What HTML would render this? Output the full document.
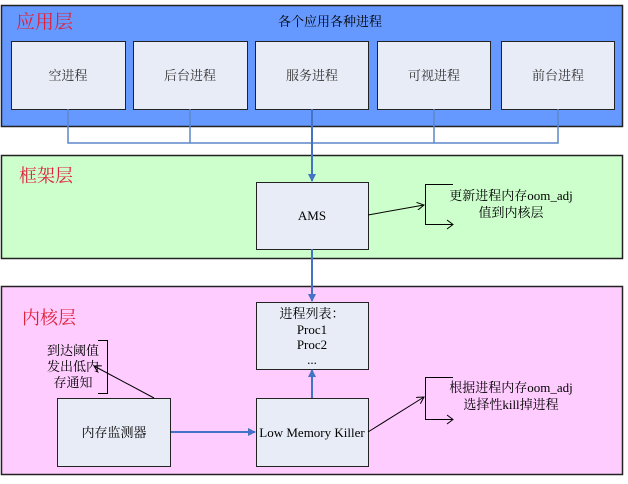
<!DOCTYPE html>
<html><head><meta charset="utf-8"><style>
body{margin:0;width:628px;height:479px;background:#fff;overflow:hidden;font-family:"Liberation Serif","Noto Serif CJK SC",serif}
svg text{font-family:"Liberation Serif","Noto Serif CJK SC",serif}
</style></head><body>
<svg width="628" height="479" xmlns="http://www.w3.org/2000/svg">
<defs>
<marker id="ba" markerWidth="8" markerHeight="8" refX="7" refY="4" orient="auto" markerUnits="userSpaceOnUse"><path d="M0,0 L8,4 L0,8 z" fill="#4472c4"/></marker>
<marker id="ka" markerWidth="8" markerHeight="8" refX="7" refY="4" orient="auto" markerUnits="userSpaceOnUse"><path d="M0,0 L7,4 L0,8" fill="none" stroke="#000" stroke-width="1"/></marker>
</defs>
<!-- app layer -->
<rect x="1.5" y="5.5" width="621" height="121" fill="#6699ff" stroke="#222" stroke-width="1.5"/>
<text x="16" y="28" font-size="19" fill="#e0203a" font-family="Liberation Sans, Noto Sans CJK SC, sans-serif">应用层</text>
<text x="330" y="26" font-size="13" text-anchor="middle">各个应用各种进程</text>
<g fill="#e8ecf6" stroke="#222" stroke-width="1">
<rect x="11.5" y="41.5" width="114" height="68"/>
<rect x="133.5" y="41.5" width="114" height="68"/>
<rect x="255.5" y="41.5" width="113" height="68"/>
<rect x="377.5" y="41.5" width="113" height="68"/>
<rect x="501.5" y="41.5" width="113" height="68"/>
</g>
<g font-size="13" text-anchor="middle" fill="#333">
<text x="68" y="80">空进程</text><text x="190" y="80">后台进程</text><text x="312" y="80">服务进程</text><text x="434" y="80">可视进程</text><text x="558" y="80">前台进程</text>
</g>
<g stroke="#5b87c8" stroke-width="1.5" fill="none">
<path d="M68,109 V143 H558 V109 M190,109 V143 M434,109 V143"/>
</g>
<!-- framework layer -->
<rect x="1.5" y="155.5" width="621" height="103" fill="#ccffcc" stroke="#222" stroke-width="1.5"/>
<text x="19" y="182" font-size="18" fill="#e0203a" font-family="Liberation Sans, Noto Sans CJK SC, sans-serif">框架层</text>
<line x1="312" y1="109" x2="312" y2="181" stroke="#4472c4" stroke-width="2" marker-end="url(#ba)"/>
<rect x="256.5" y="182.5" width="112" height="67" fill="#e8ecf6" stroke="#222"/>
<text x="312" y="220" font-size="13" text-anchor="middle">AMS</text>
<line x1="368" y1="215" x2="424" y2="205" stroke="#000" marker-end="url(#ka)"/>
<path d="M453,184.5 H425.5 V224.5 H453" fill="none" stroke="#000"/>
<path d="M447,220 L453,224.5 L447,229" fill="none" stroke="#000"/>
<text x="511" y="200" font-size="13" text-anchor="middle">更新进程内存oom_adj</text>
<text x="511" y="217" font-size="13" text-anchor="middle">值到内核层</text>
<!-- kernel layer -->
<rect x="1.5" y="286.5" width="621" height="188" fill="#ffccff" stroke="#222" stroke-width="1.5"/>
<text x="22" y="324" font-size="18" fill="#e0203a" font-family="Liberation Sans, Noto Sans CJK SC, sans-serif">内核层</text>
<line x1="312" y1="249" x2="312" y2="301" stroke="#4472c4" stroke-width="2" marker-end="url(#ba)"/>
<rect x="256.5" y="302.5" width="112" height="67" fill="#e8ecf6" stroke="#222"/>
<g font-size="13" text-anchor="middle"><text x="312" y="318">进程列表：</text><text x="312" y="334">Proc1</text><text x="312" y="349">Proc2</text><text x="312" y="364">...</text></g>
<rect x="57.5" y="398.5" width="113" height="68" fill="#e8ecf6" stroke="#222"/>
<text x="114" y="437" font-size="13" text-anchor="middle">内存监测器</text>
<rect x="256.5" y="398.5" width="112" height="68" fill="#e8ecf6" stroke="#222"/>
<text x="312" y="437" font-size="13" text-anchor="middle">Low Memory Killer</text>
<line x1="171" y1="432" x2="255" y2="432" stroke="#4472c4" stroke-width="2" marker-end="url(#ba)"/>
<line x1="312" y1="398" x2="312" y2="370" stroke="#4472c4" stroke-width="2" marker-end="url(#ba)"/>
<line x1="154" y1="398" x2="94" y2="366" stroke="#000" marker-end="url(#ka)"/>
<path d="M98,340.5 H107.5 V393.5 H98" fill="none" stroke="#000"/>
<g font-size="13" text-anchor="middle"><text x="73" y="355">到达阈值</text><text x="73" y="371">发出低内</text><text x="73" y="387">存通知</text></g>
<line x1="368" y1="432" x2="424" y2="397" stroke="#000" marker-end="url(#ka)"/>
<path d="M453,377.5 H425.5 V419.5 H453" fill="none" stroke="#000"/>
<path d="M447,415 L453,419.5 L447,424" fill="none" stroke="#000"/>
<text x="511" y="392" font-size="13" text-anchor="middle">根据进程内存oom_adj</text>
<text x="511" y="409" font-size="13" text-anchor="middle">选择性kill掉进程</text>
</svg>
</body></html>
